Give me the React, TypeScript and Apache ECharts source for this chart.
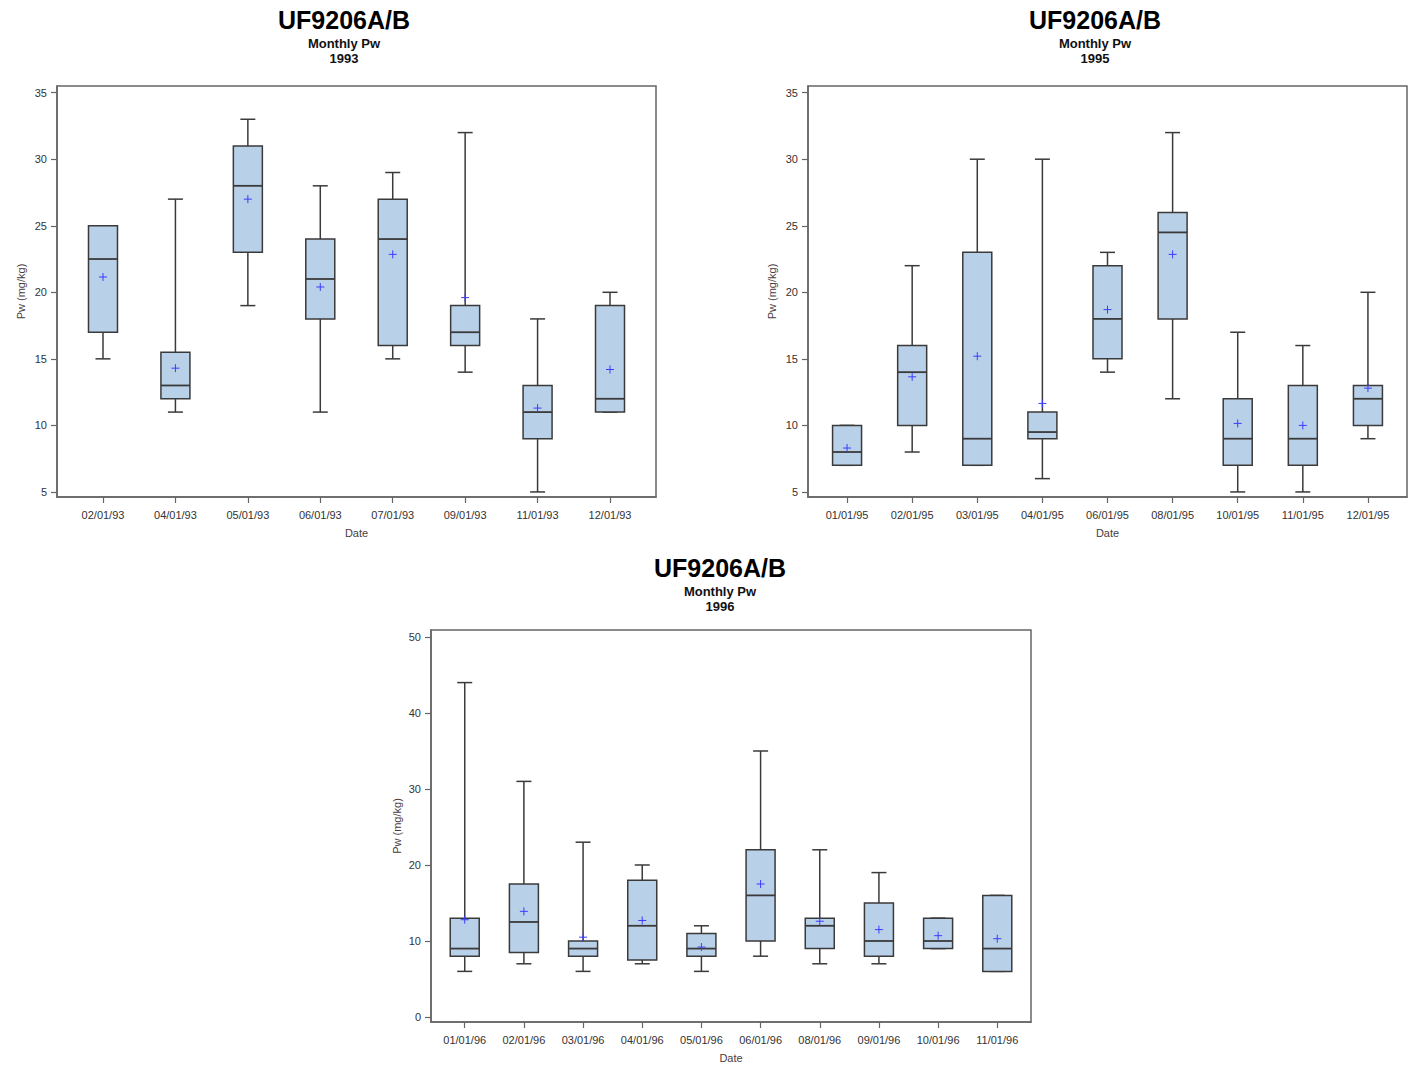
import React, { useEffect, useRef } from "react";
import * as echarts from "echarts";

// ---- Text ----
const TITLE = "UF9206A/B";
const SUBTITLE = "Monthly Pw";
const Y_NAME = "Pw (mg/kg)";
const X_NAME = "Date";

// ---- 1993 ----
const dates1993 = ["02/01/93", "04/01/93", "05/01/93", "06/01/93", "07/01/93", "09/01/93", "11/01/93", "12/01/93"];
const min1993 = [15, 11, 19, 11, 15, 14, 5, 11];
const q1_1993 = [17, 12, 23, 18, 16, 16, 9, 11];
const median1993 = [22.5, 13, 28, 21, 24, 17, 11, 12];
const q3_1993 = [25, 15.5, 31, 24, 27, 19, 13, 19];
const max1993 = [25, 27, 33, 28, 29, 32, 18, 20];
const mean1993 = [21.15, 14.3, 27, 20.4, 22.85, 19.6, 11.3, 14.2];

// ---- 1995 ----
const dates1995 = ["01/01/95", "02/01/95", "03/01/95", "04/01/95", "06/01/95", "08/01/95", "10/01/95", "11/01/95", "12/01/95"];
const min1995 = [7, 8, 7, 6, 14, 12, 5, 5, 9];
const q1_1995 = [7, 10, 7, 9, 15, 18, 7, 7, 10];
const median1995 = [8, 14, 9, 9.5, 18, 24.5, 9, 9, 12];
const q3_1995 = [10, 16, 23, 11, 22, 26, 12, 13, 13];
const max1995 = [10, 22, 30, 30, 23, 32, 17, 16, 20];
const mean1995 = [8.3, 13.65, 15.2, 11.65, 18.7, 22.85, 10.15, 10.0, 12.8];

// ---- 1996 ----
const dates1996 = ["01/01/96", "02/01/96", "03/01/96", "04/01/96", "05/01/96", "06/01/96", "08/01/96", "09/01/96", "10/01/96", "11/01/96"];
const min1996 = [6, 7, 6, 7, 6, 8, 7, 7, 9, 6];
const q1_1996 = [8, 8.5, 8, 7.5, 8, 10, 9, 8, 9, 6];
const median1996 = [9, 12.5, 9, 12, 9, 16, 12, 10, 10, 9];
const q3_1996 = [13, 17.5, 10, 18, 11, 22, 13, 15, 13, 16];
const max1996 = [44, 31, 23, 20, 12, 35, 22, 19, 13, 16];
const mean1996 = [12.8, 13.9, 10.5, 12.7, 9.2, 17.5, 12.6, 11.5, 10.7, 10.3];

// ---- Tick values ----
const yTicks9395 = [5, 10, 15, 20, 25, 30, 35];
const yTicks96 = [0, 10, 20, 30, 40, 50];

// ---- Styling ----
const FONT = '"Liberation Sans", Arial, sans-serif';
const FRAME = "#666666";
const BOX_FILL = "#b9d0e9";
const BOX_EDGE = "#3a3a3a";
const MEAN_COLOR = "#3c3cff";
const BOX_W = 29;
const CAP_W = 15;

type Panel = {
  year: string;
  dates: string[];
  mins: number[];
  q1s: number[];
  meds: number[];
  q3s: number[];
  maxs: number[];
  means: number[];
  yTicks: number[];
  grid: { left: number; top: number; width: number; height: number };
  yRange: [number, number];
  xPad: number;
  titleX: number;
  titleY: number;
  nameGapY: number;
};

const panels: Panel[] = [
  {
    year: "1993", dates: dates1993, mins: min1993, q1s: q1_1993, meds: median1993, q3s: q3_1993, maxs: max1993, means: mean1993,
    yTicks: yTicks9395, grid: { left: 57, top: 86, width: 599, height: 411 }, yRange: [4.62, 35.5], xPad: 0.635,
    titleX: 344, titleY: 20, nameGapY: 31,
  },
  {
    year: "1995", dates: dates1995, mins: min1995, q1s: q1_1995, meds: median1995, q3s: q3_1995, maxs: max1995, means: mean1995,
    yTicks: yTicks9395, grid: { left: 808, top: 86, width: 599, height: 411 }, yRange: [4.62, 35.5], xPad: 0.6,
    titleX: 1095, titleY: 20, nameGapY: 31,
  },
  {
    year: "1996", dates: dates1996, mins: min1996, q1s: q1_1996, meds: median1996, q3s: q3_1996, maxs: max1996, means: mean1996,
    yTicks: yTicks96, grid: { left: 431, top: 630, width: 600, height: 392 }, yRange: [-0.66, 50.92], xPad: 0.57,
    titleX: 720, titleY: 568, nameGapY: 29,
  },
];

// Draws one box: whiskers with short caps, the quartile box, the median bar and a "+" at the mean.
const renderBox = (_params: any, api: any) => {
  const x = api.value(0);
  const lo = api.coord([x, api.value(1)]);
  const q1 = api.coord([x, api.value(2)]);
  const med = api.coord([x, api.value(3)]);
  const q3 = api.coord([x, api.value(4)]);
  const hi = api.coord([x, api.value(5)]);
  const mn = api.coord([x, api.value(6)]);
  const cx = lo[0];
  const half = BOX_W / 2;
  const cap = CAP_W / 2;
  const edge = { stroke: BOX_EDGE, lineWidth: 1.5 };
  const seg = (x1: number, y1: number, x2: number, y2: number, style: any) => ({
    type: "line",
    shape: { x1, y1, x2, y2 },
    style,
  });
  return {
    type: "group",
    children: [
      seg(cx, hi[1], cx, q3[1], edge),
      seg(cx, q1[1], cx, lo[1], edge),
      seg(cx - cap, hi[1], cx + cap, hi[1], edge),
      seg(cx - cap, lo[1], cx + cap, lo[1], edge),
      {
        type: "rect",
        shape: { x: cx - half, y: q3[1], width: BOX_W, height: q1[1] - q3[1] },
        style: { fill: BOX_FILL, stroke: BOX_EDGE, lineWidth: 1.5 },
      },
      seg(cx - half, med[1], cx + half, med[1], { stroke: BOX_EDGE, lineWidth: 1.8 }),
      seg(mn[0] - 4, mn[1], mn[0] + 4, mn[1], { stroke: MEAN_COLOR, lineWidth: 1 }),
      seg(mn[0], mn[1] - 4, mn[0], mn[1] + 4, { stroke: MEAN_COLOR, lineWidth: 1 }),
    ],
  };
};

function buildOption() {
  const grid: any[] = [];
  const xAxis: any[] = [];
  const yAxis: any[] = [];
  const series: any[] = [];
  const graphic: any[] = [];

  panels.forEach((p, k) => {
    const xTicks = p.dates.map((_, i) => i);
    grid.push({
      ...p.grid,
      show: true,
      borderColor: FRAME,
      borderWidth: 1.5,
      backgroundColor: "transparent",
      containLabel: false,
    });
    xAxis.push({
      gridIndex: k,
      type: "value",
      min: -p.xPad,
      max: p.dates.length - 1 + p.xPad,
      axisLine: { show: true, onZero: false, lineStyle: { color: FRAME, width: 1.5 } },
      axisTick: { show: true, length: 6, inside: false, customValues: xTicks, lineStyle: { color: FRAME, width: 1.2 } },
      axisLabel: {
        customValues: xTicks,
        formatter: (v: number) => p.dates[Math.round(v)] ?? "",
        fontSize: 11,
        color: "#333",
        fontFamily: FONT,
        margin: 12,
      },
      splitLine: { show: false },
      name: X_NAME,
      nameLocation: "middle",
      nameGap: 30,
      nameTextStyle: { fontSize: 11, color: "#4a3c3c", fontFamily: FONT },
    });
    yAxis.push({
      gridIndex: k,
      type: "value",
      min: p.yRange[0],
      max: p.yRange[1],
      axisLine: { show: true, onZero: false, lineStyle: { color: FRAME, width: 1.5 } },
      axisTick: { show: true, length: 6, inside: false, customValues: p.yTicks, lineStyle: { color: FRAME, width: 1.2 } },
      axisLabel: {
        customValues: p.yTicks,
        fontSize: 11,
        color: "#333",
        fontFamily: FONT,
        margin: 10,
      },
      splitLine: { show: false },
      name: Y_NAME,
      nameLocation: "middle",
      nameRotate: 90,
      nameGap: p.nameGapY,
      nameTextStyle: { fontSize: 11, color: "#4a3c3c", fontFamily: FONT },
    });
    series.push({
      type: "custom",
      name: p.year,
      xAxisIndex: k,
      yAxisIndex: k,
      clip: false,
      renderItem: renderBox,
      encode: { x: 0, y: [1, 2, 3, 4, 5, 6] },
      data: p.dates.map((_, i) => [i, p.mins[i], p.q1s[i], p.meds[i], p.q3s[i], p.maxs[i], p.means[i]]),
    });
    graphic.push(
      {
        type: "text",
        x: p.titleX,
        y: p.titleY,
        style: { text: TITLE, font: `bold 25px ${FONT}`, fill: "#000", align: "center", verticalAlign: "middle" },
      },
      {
        type: "text",
        x: p.titleX,
        y: p.titleY + 23,
        style: { text: SUBTITLE, font: `bold 13px ${FONT}`, fill: "#111", align: "center", verticalAlign: "middle" },
      },
      {
        type: "text",
        x: p.titleX,
        y: p.titleY + 38,
        style: { text: p.year, font: `bold 13px ${FONT}`, fill: "#111", align: "center", verticalAlign: "middle" },
      }
    );
  });

  return {
    animation: false,
    backgroundColor: "#ffffff",
    textStyle: { fontFamily: FONT },
    grid,
    xAxis,
    yAxis,
    series,
    graphic,
  };
}

export default function App() {
  const ref = useRef<HTMLDivElement>(null);

  useEffect(() => {
    document.body.style.margin = "0";
    if (!ref.current) return;
    const chart = echarts.init(ref.current, undefined, { renderer: "svg" });
    chart.setOption(buildOption() as any);
    return () => chart.dispose();
  }, []);

  return <div ref={ref} style={{ width: 1416, height: 1065 }} />;
}
